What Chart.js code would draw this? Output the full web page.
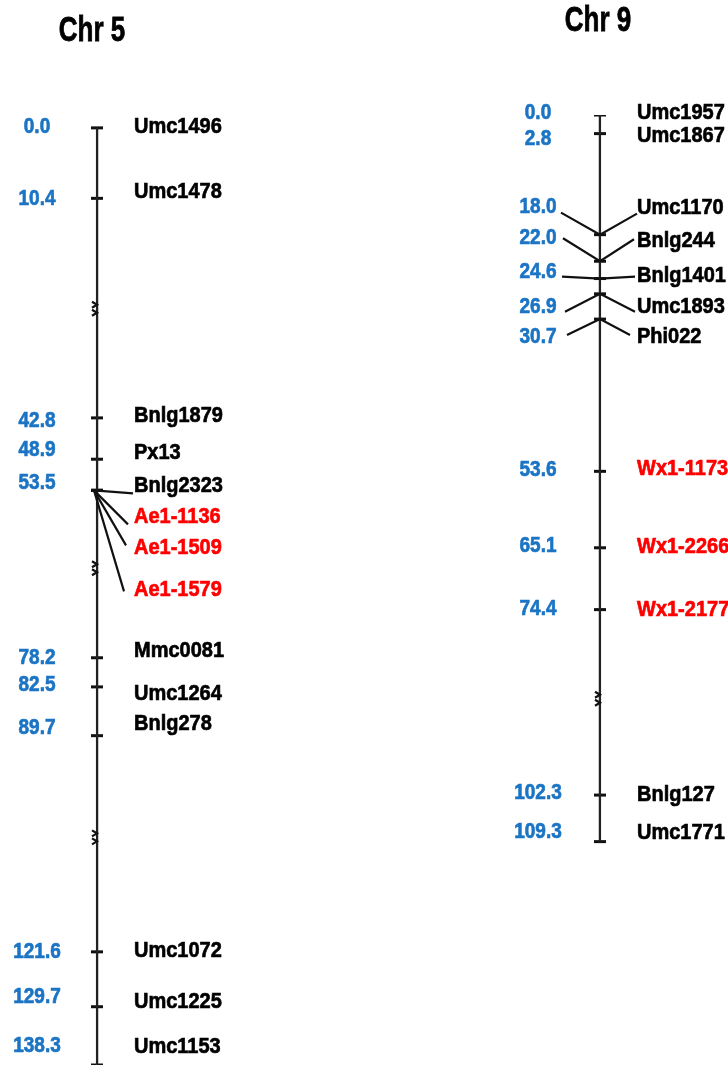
<!DOCTYPE html>
<html>
<head>
<meta charset="utf-8">
<script src="https://cdn.jsdelivr.net/npm/chart.js@4/dist/chart.umd.min.js"></script>
<style>
  body { margin: 0; background: #fff; }
  canvas { display: block; }
</style>
</head>
<body>
<canvas id="mapChart" width="728" height="1074"></canvas>
<script>
// Linkage map data (cM)

const chromosomes = ["Chr 5", "Chr 9"];

const chr5Markers = ["Umc1496", "Umc1478", "Bnlg1879", "Px13", "Bnlg2323", "Ae1-1136", "Ae1-1509", "Ae1-1579",
	"Mmc0081", "Umc1264", "Bnlg278", "Umc1072", "Umc1225", "Umc1153"];
const chr5Cm = [0.0, 10.4, 42.8, 48.9, 53.5, 53.5, 53.5, 53.5, 78.2, 82.5, 89.7, 121.6, 129.7, 138.3];
const chr5Breaks = [26.7, 65.0, 104.7];

const chr9Markers = ["Umc1957", "Umc1867", "Umc1170", "Bnlg244", "Bnlg1401", "Umc1893", "Phi022",
	"Wx1-1173", "Wx1-2266", "Wx1-2177", "Bnlg127", "Umc1771"];
const chr9Cm = [0.0, 2.8, 18.0, 22.0, 24.6, 26.9, 30.7, 53.6, 65.1, 74.4, 102.3, 109.3];
const chr9Breaks = [87.8];

// markers inside the candidate genes (drawn red)
const geneMarkers = ["Ae1-1136", "Ae1-1509", "Ae1-1579", "Wx1-1173", "Wx1-2266", "Wx1-2177"];

// label nudges in pixels (layout only)
const chr5NameDy = [-1, -6, -2, -6, -4, 27, 58, 100, -7, 7, -12, -1, -5, -18];
const chr5ValueDy = { "0.0": -1, "10.4": 1, "42.8": 3, "48.9": -9, "53.5": -7, "78.2": 0, "82.5": -2,
	"89.7": -8, "121.6": 0, "129.7": -10, "138.3": -19 };
const chr5Leaders = { "Bnlg2323": [36, 3], "Ae1-1136": [31, 34], "Ae1-1509": [29, 55], "Ae1-1579": [27, 101] };

const chr9NameDy = [-2, 2, -27, -20, -2, 13, 18, -2, -1, 0, 0, -9];
const chr9ValueDy = [-2, 6, -28, -23, -6, 13, 18, -1, -2, 0, -2, -9];
// [left dx, left dy, right dx, right dy]
const chr9Leaders = { 2: [-39, -22, 37, -21], 3: [-37, -23, 34, -22], 4: [-38, -2, 35, -2],
	5: [-35, 18, 35, 18], 6: [-33, 16, 30, 16] };

const BLUE = "#1b74c4";
const RED = "#ff0000";
const INK = "#111";

function pts(chr, values) {
	return values.map(v => ({ x: chr, y: v }));
}

// draw text with a little vertical stretch like the original figure
function drawText(ctx, text, x, y, size, color, align, sy) {
	ctx.save();
	ctx.font = "bold " + size + "px 'Liberation Sans', Arial, sans-serif";
	ctx.fillStyle = color;
	ctx.strokeStyle = color;
	ctx.lineWidth = 0.6;
	ctx.textAlign = align;
	ctx.textBaseline = "middle";
	ctx.translate(x, y);
	ctx.scale(1, sy);
	ctx.fillText(text, 0, 0);
	ctx.strokeText(text, 0, 0);
	ctx.restore();
}

function drawBreak(ctx, x, y) {
	ctx.save();
	ctx.lineWidth = 2.2;
	ctx.beginPath();
	ctx.moveTo(x - 5, y - 7);
	ctx.lineTo(x, y - 4);
	ctx.lineTo(x - 5, y - 1);
	ctx.moveTo(x - 5, y + 1);
	ctx.lineTo(x, y + 4);
	ctx.lineTo(x - 5, y + 7);
	ctx.stroke();
	ctx.restore();
}

const mapLabels = {
	id: "mapLabels",
	afterDatasetsDraw(chart) {
		const ctx = chart.ctx;
		const xs = chart.scales.x;
		const y5 = chart.scales.y5;
		const y9 = chart.scales.y9;
		const x5 = xs.getPixelForValue(0);
		const x9 = xs.getPixelForValue(1);

		ctx.save();
		ctx.strokeStyle = INK;
		ctx.lineWidth = 2.2;

		// titles
		drawText(ctx, chromosomes[0], x5 - 5, 31, 26, "#000", "center", 1.35);
		drawText(ctx, chromosomes[1], x9 - 2, 21, 26, "#000", "center", 1.35);

		// break symbols
		chr5Breaks.forEach(b => drawBreak(ctx, x5, y5.getPixelForValue(b)));
		chr9Breaks.forEach(b => drawBreak(ctx, x9, y9.getPixelForValue(b)));

		// Chr 5
		let shown = {};
		for (let i = 0; i < chr5Markers.length; i++) {
			let name = chr5Markers[i];
			let py = y5.getPixelForValue(chr5Cm[i]);
			let lead = chr5Leaders[name];
			if (lead) {
				ctx.beginPath();
				ctx.moveTo(x5 - 3, py);
				ctx.lineTo(x5 + lead[0], py + lead[1]);
				ctx.stroke();
			}
			let color = geneMarkers.includes(name) ? RED : "#000";
			drawText(ctx, name, x5 + 37, py + chr5NameDy[i], 20, color, "left", 1.08);
			let val = chr5Cm[i].toFixed(1);
			if (!shown[val]) {
				shown[val] = true;
				drawText(ctx, val, x5 - 60, py + chr5ValueDy[val], 19, BLUE, "center", 1.12);
			}
		}

		// Chr 9
		for (let i = 0; i < chr9Markers.length; i++) {
			let name = chr9Markers[i];
			let py = y9.getPixelForValue(chr9Cm[i]);
			let lead = chr9Leaders[i];
			if (lead) {
				ctx.beginPath();
				ctx.moveTo(x9 + lead[0], py + lead[1]);
				ctx.lineTo(x9, py);
				ctx.lineTo(x9 + lead[2], py + lead[3]);
				ctx.stroke();
			}
			let color = geneMarkers.includes(name) ? RED : "#000";
			drawText(ctx, name, x9 + 37, py + chr9NameDy[i], 20, color, "left", 1.08);
			drawText(ctx, chr9Cm[i].toFixed(1), x9 - 62, py + chr9ValueDy[i], 19, BLUE, "center", 1.12);
		}
		ctx.restore();
	}
};

const chr5Ends = [chr5Cm[0], chr5Cm[chr5Cm.length - 1]];
const chr9Ends = [chr9Cm[0], chr9Cm[chr9Cm.length - 1]];

new Chart(document.getElementById("mapChart"), {
	type: "line",
	data: {
		labels: chromosomes,
		datasets: [
			{
				// Chr 5 backbone
				data: pts(chromosomes[0], chr5Ends),
				yAxisID: "y5",
				borderColor: "#222",
				borderWidth: 2.5,
				pointRadius: 0,
			},
			{
				// Chr 5 marker ticks
				data: pts(chromosomes[0], chr5Cm),
				yAxisID: "y5",
				showLine: false,
				pointStyle: "line",
				pointRadius: 6,
				pointBorderWidth: 3,
				pointBorderColor: "#111",
			},
			{
				data: pts(chromosomes[1], chr9Ends),
				yAxisID: "y9",
				borderColor: "#222",
				borderWidth: 2.5,
				pointRadius: 0,
			},
			{
				data: pts(chromosomes[1], chr9Cm),
				yAxisID: "y9",
				showLine: false,
				pointStyle: "line",
				pointRadius: 6,
				pointBorderWidth: 3,
				pointBorderColor: "#111",
			},
		],
	},
	options: {
		responsive: false,
		animation: false,
		layout: { padding: { left: 97, right: 128, top: 115, bottom: 2 } },
		scales: {
			x: { type: "category", offset: false, display: false },
			y5: { type: "linear", reverse: true, min: -1.9, max: 138.3, display: false },
			y9: { type: "linear", reverse: true, min: 0, max: 142.9, display: false },
		},
		plugins: {
			legend: { display: false },
			tooltip: { enabled: false },
		},
	},
	plugins: [mapLabels],
});
</script>
</body>
</html>
